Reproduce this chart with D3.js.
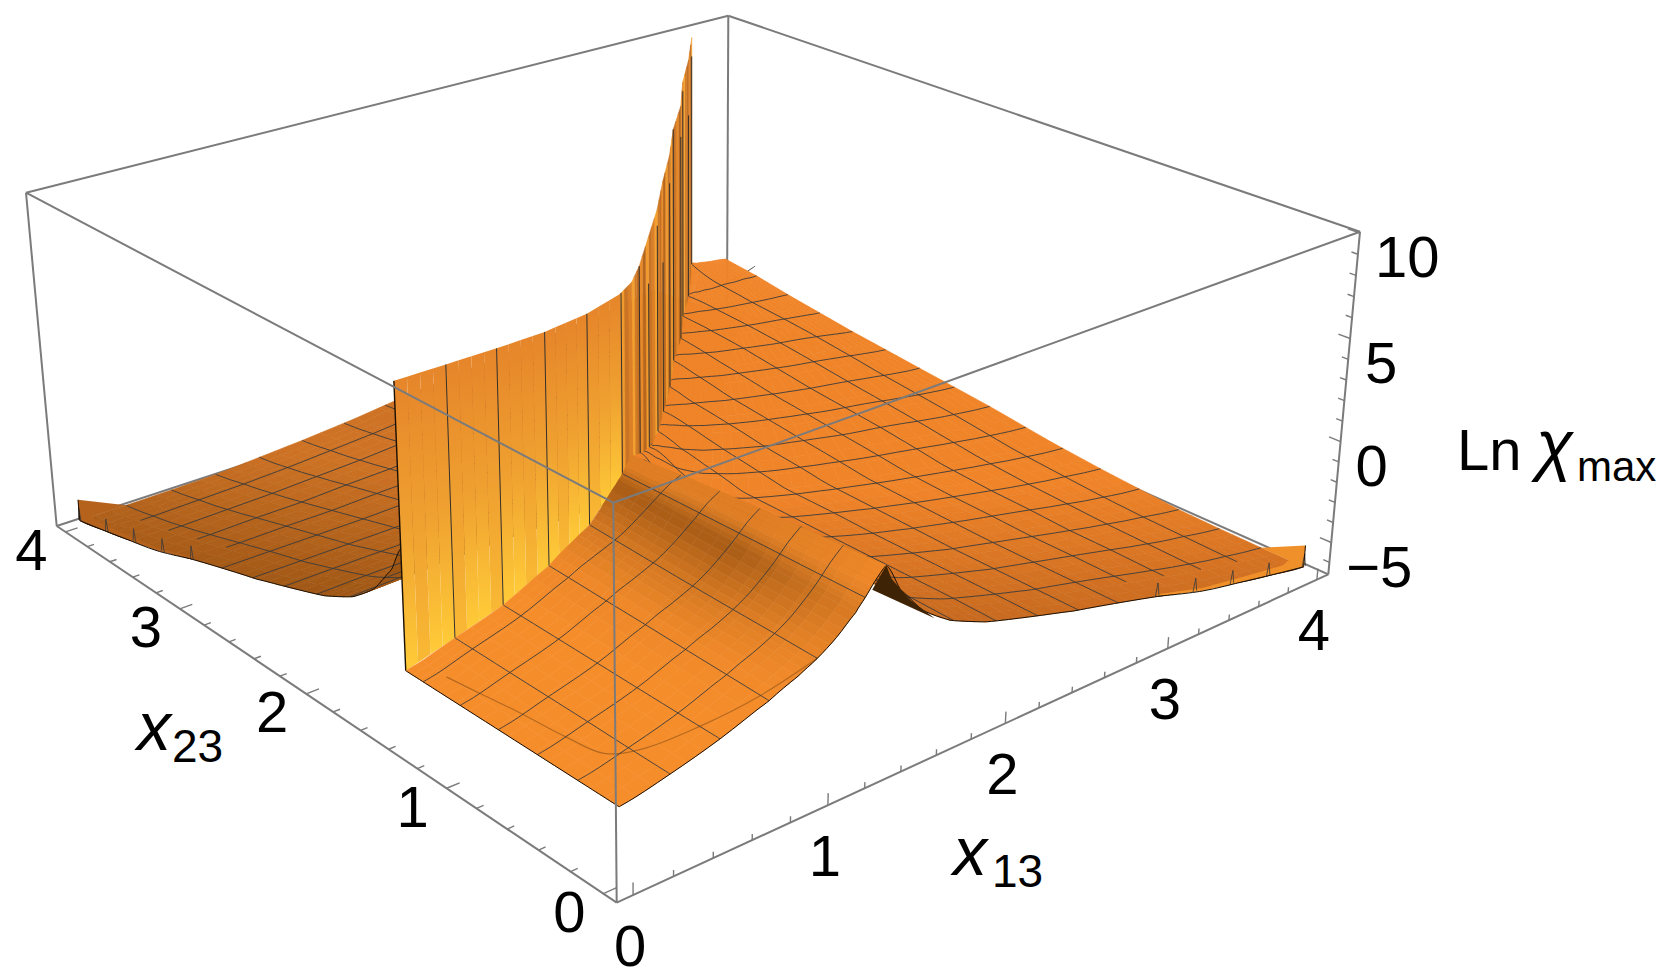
<!DOCTYPE html>
<html>
<head>
<meta charset="utf-8">
<script src="https://cdn.jsdelivr.net/npm/d3@7"></script>
<style>
  body { margin: 0; background: #fff; }
  text { font-family: "Liberation Sans", Arial, sans-serif; fill: #000; }
</style>
</head>
<body>
<div id="grafica"></div>
<script>
// tick labels
var x13Labels = [0, 1, 2, 3, 4];
var x23Labels = [0, 1, 2, 3, 4];
var zLabels = [-5, 0, 5, 10];

// front patch, x13 < ridge : rows x23 (fraction of the wall), columns x13
var frontX13 = [0, .25, .5, .75, .9, 1, 1.1, 1.2, 1.25, 1.3, 1.36];
var frontRows = [0, .19, .38, .56, .75, .9, 1];
var frontZ = [
  [-3.13, -2.68, -2.09, -1.34, -.8, -.37, .2, .95, 1.45, 2.0, 2.5],
  [-3.13, -2.65, -2.05, -1.25, -.72, -.3, .25, .97, 1.43, 1.93, 2.38],
  [-3.13, -2.6, -2.0, -1.17, -.65, -.24, .3, .98, 1.42, 1.87, 2.25],
  [-3.13, -2.57, -1.95, -1.08, -.55, -.17, .36, 1.0, 1.4, 1.8, 2.12],
  [-3.13, -2.54, -1.9, -1.0, -.45, -.08, .42, 1.03, 1.38, 1.72, 1.95],
  [-3.13, -2.51, -1.86, -.93, -.35, 0, .5, 1.07, 1.36, 1.6, 1.75],
  [-3.13, -2.5, -1.84, -.89, -.3, .05, .55, 1.1, 1.35, 1.55, 1.65]
];

// wall between the front patch and the fin, top at the clip level
var wallX13 = [0, .25, .5, .75, 1, 1.24, 1.36, 1.5, 1.75, 2, 2.25, 2.5, 2.75, 3, 3.25, 3.5, 3.76];
var wallX23 = [1.37, 1.37, 1.37, 1.38, 1.42, 1.5, 1.57, 1.69, 1.93, 2.17, 2.43, 2.68, 2.95, 3.19, 3.47, 3.72, 4];
var wallBase = [-3.13, -2.5, -1.84, -.89, .05, 1.3, 1.65, .9, -.4, -1.2, -1.85, -2.15, -2.35, -2.65, -3, -3.35, -3];
var wallTop = 9.7;
var finRidge = 6; // index of the ridge in the wall lists

// lobe right of the ridge (the left lobe is its mirror image)
// rows x23, columns fraction of the way from the fin to x13 = 4
var lobeX23 = [0, .25, .5, .75, 1, 1.25, 1.57, 2, 2.5, 3, 3.5, 3.75, 4];
var lobeFrac = [0, .03, .08, .14, .22, .32, .42, .55, .68, .82, .92, 1];
var lobeZ = [
  [2.5, 1.2, -.2, -1.2, -2, -2.67, -3.3, -4, -4.75, -5.5, -5.95, -6.27],
  [2.4, 1.25, -.15, -1.15, -1.95, -2.65, -3.3, -4, -4.75, -5.5, -5.95, -6.27],
  [2.3, 1.25, -.1, -1.1, -1.95, -2.65, -3.3, -4, -4.7, -5.45, -5.9, -6.25],
  [2.15, 1.2, -.1, -1.1, -1.95, -2.65, -3.3, -4, -4.7, -5.4, -5.85, -6.2],
  [2, 1.15, -.15, -1.1, -1.95, -2.65, -3.25, -3.95, -4.6, -5.3, -5.75, -6.05],
  [1.85, 1.05, -.2, -1.15, -1.95, -2.6, -3.2, -3.9, -4.55, -5.2, -5.6, -5.9],
  [1.65, .9, -.3, -1.2, -1.95, -2.6, -3.15, -3.8, -4.4, -5, -5.4, -5.65],
  [-.8, -1.05, -1.5, -1.95, -2.4, -2.9, -3.3, -3.8, -4.2, -4.7, -5, -5.2],
  [-2, -2.1, -2.3, -2.5, -2.8, -3.1, -3.4, -3.75, -4.05, -4.4, -4.65, -4.8],
  [-2.4, -2.45, -2.6, -2.75, -2.95, -3.15, -3.35, -3.6, -3.8, -4.05, -4.25, -4.4],
  [-3.05, -3.1, -3.15, -3.2, -3.3, -3.4, -3.5, -3.6, -3.7, -3.8, -3.85, -3.9],
  [-3.4, -3.4, -3.4, -3.45, -3.45, -3.5, -3.5, -3.5, -3.55, -3.55, -3.6, -3.6],
  [-3, -3.02, -3.05, -3.1, -3.12, -3.16, -3.2, -3.25, -3.28, -3.32, -3.36, -3.4]
];

// raised band along the far end of the front edge
var bandX13 = [3.0, 3.3, 3.6, 3.85, 4];
var bandLow = [-4.4, -5.15, -5.65, -6.05, -6.27];
var bandHigh = [-4.3, -5.0, -5.4, -5.7, -5.2];
var spikeX13 = [3, 3.25, 3.5, 3.75, 4];
var spikeLow = [-4.4, -5.0, -5.45, -5.9, -6.27];

// dark underside just past the ridge
var underX13 = [1.287, 1.36, 1.39, 1.49, 1.64];
var underZ = [1.66, 2.5, 1.82, .58, -.8];

// faint crease on the front patch
var creaseX13 = [.08, .1, .12, .14, .17, .28, .5, .75, 1];
var creaseX23 = [1.2, .98, .78, .5, .3, .2, .12, .05, 0];

var width = 1672, height = 980;
var meshLines = d3.range(.25, 4, .25);

// box corners on the page, floor then ceiling : going round the unit square
var floorCorners = [[616.7, 902.7], [1328.3, 574.3], [727, 306], [56.7, 526]];
var ceilCorners = [[613.3, 502.7], [1360, 231.7], [728.3, 15.7], [26, 192.7]];
var ceilScale = .95;

var xs = d3.scaleLinear().domain([-.08, 4.08]).range([0, 1]);
var zs = d3.scaleLinear().domain([-6.6, 10.06]).range([0, 1]);

// unit square to four page points
function squareToQuad(q) {
  var dx1 = q[1][0] - q[2][0], dx2 = q[3][0] - q[2][0], sx = q[0][0] - q[1][0] + q[2][0] - q[3][0],
      dy1 = q[1][1] - q[2][1], dy2 = q[3][1] - q[2][1], sy = q[0][1] - q[1][1] + q[2][1] - q[3][1],
      det = dx1 * dy2 - dx2 * dy1,
      g = (sx * dy2 - dx2 * sy) / det, h = (dx1 * sy - sx * dy1) / det;
  return [q[1][0] - q[0][0] + g * q[1][0], q[3][0] - q[0][0] + h * q[3][0], q[0][0],
          q[1][1] - q[0][1] + g * q[1][1], q[3][1] - q[0][1] + h * q[3][1], q[0][1],
          g, h, 1];
}
var camFloor = squareToQuad(floorCorners);
var camCeil = squareToQuad(ceilCorners);

function homog(x, y, z) {
  var X = xs(x), Y = xs(y), Z = zs(z);
  function a(m, i) { return m[i] * X + m[i + 1] * Y + m[i + 2]; }
  return [0, 3, 6].map(function(i) {
    return (1 - Z) * a(camFloor, i) + Z * ceilScale * a(camCeil, i);
  });
}
function depth(x, y, z) { return homog(x, y, z)[2]; }
function project(x, y, z) {
  var h = homog(x, y, z);
  return [h[0] / h[2], h[1] / h[2]];
}

var svg = d3.select("#grafica").append("svg")
  .attr("width", width).attr("height", height);
var defs = svg.append("defs");
var line = d3.line();
var smooth = d3.line().curve(d3.curveCatmullRom.alpha(.5));

function seg(a, b, w) {
  svg.append("path").attr("d", line([project.apply(null, a), project.apply(null, b)]))
    .attr("fill", "none").attr("stroke", "#7b7b7b").attr("stroke-width", w || 2);
}
var x0 = -.08, x1 = 4.08, z0 = -6.6, z1 = 10.06;

// back edges of the box
seg([x0, x1, z0], [x1, x1, z0]);
seg([x1, x1, z0], [x1, x0, z0]);
seg([x1, x1, z0], [x1, x1, z1]);

// lookups
var ridgeX13 = wallX13[finRidge];
var finX13 = d3.scaleLinear()
  .domain([0].concat(wallX23.slice(finRidge))).range([ridgeX13].concat(wallX13.slice(finRidge))).clamp(true);
var finX23 = d3.scaleLinear().domain(wallX13.slice(finRidge)).range(wallX23.slice(finRidge)).clamp(true);
var wallAt = d3.scaleLinear().domain(wallX13).range(wallX23).clamp(true);
var baseAt = d3.scaleLinear().domain(wallX13).range(wallBase).clamp(true);

var rowIdx = d3.scaleLinear().domain(lobeX23).range(d3.range(lobeX23.length)).clamp(true);
var colIdx = d3.scaleLinear().domain(lobeFrac).range(d3.range(lobeFrac.length)).clamp(true);
var fRowIdx = d3.scaleLinear().domain(frontRows).range(d3.range(frontRows.length)).clamp(true);
var fColIdx = d3.scaleLinear().domain(frontX13).range(d3.range(frontX13.length)).clamp(true);

function along(row, c) {
  var j = Math.min(Math.floor(c), row.length - 2), e = c - j,
      p0 = row[Math.max(j - 1, 0)], p1 = row[j], p2 = row[j + 1], p3 = row[Math.min(j + 2, row.length - 1)];
  return p1 + .5 * e * (p2 - p0 + e * (2 * p0 - 5 * p1 + 4 * p2 - p3 + e * (3 * (p1 - p2) + p3 - p0)));
}
function sample(tab, r, c) {
  var i = Math.min(Math.floor(r), tab.length - 2), a = r - i;
  return (1 - a) * along(tab[i], c) + a * along(tab[i + 1], c);
}
function lerpAt(list, t) {
  var i = Math.min(Math.floor(t), list.length - 2);
  return list[i] + (list[i + 1] - list[i]) * (t - i);
}
function lobeAt(x13, x23) {
  var b = finX13(x23);
  return sample(lobeZ, rowIdx(x23), colIdx((x13 - b) / (4 - b)));
}
function frontAt(x13, x23) {
  return sample(frontZ, fRowIdx(x23 / wallAt(x13)), fColIdx(x13));
}

// colours
var rightDark = "#C4681F", rightLight = "#F08429";
var leftDark = "#9C5514", leftLight = "#CE7325";
var patchBase = "#F68D2B", patchDark = "#A85C16";
var ridgeMix = d3.scaleLinear().domain([0, .55, .8, 1, 1.2, 1.29, 1.36]).range([0, 0, .12, .42, 1, .3, .3]).clamp(true);
var ridgeFade = d3.scaleLinear().domain([0, .25, .7, 1.37]).range([.35, .6, 1, 1]).clamp(true);

function rightColor(x13, x23) {
  var t = Math.min(1, x23 * .6 + Math.max(0, x13 - 1.4) * .12);
  return d3.interpolateRgb(rightDark, rightLight)(t);
}
function leftColor(x13, x23) {
  var t = Math.min(1, x13 * .6 + Math.max(0, x23 - 1.4) * .12);
  return d3.interpolateRgb(leftDark, leftLight)(t);
}
function patchColor(x13, x23) {
  return d3.interpolateRgb(patchBase, patchDark)(ridgeMix(x13) * ridgeFade(x23));
}

// split a table's cells finer and paint far to near; ptFn takes row and column positions
function paintPatch(nRows, nCols, sub, ptFn, colorFn) {
  var cells = [];
  for (var r = 0; r < (nRows - 1) * sub; r++) {
    for (var c = 0; c < (nCols - 1) * sub; c++) {
      var pts = [ptFn(r / sub, c / sub), ptFn(r / sub, (c + 1) / sub), ptFn((r + 1) / sub, (c + 1) / sub), ptFn((r + 1) / sub, c / sub)];
      var mx = d3.mean(pts, function(d) { return d[0]; }), my = d3.mean(pts, function(d) { return d[1]; }), mz = d3.mean(pts, function(d) { return d[2]; });
      cells.push({
        pts: pts.map(function(d) { return project(d[0], d[1], d[2]); }),
        w: depth(mx, my, mz), color: colorFn(mx, my)
      });
    }
  }
  cells.sort(function(a, b) { return b.w - a.w; });
  svg.append("g").selectAll("path").data(cells).enter().append("path")
    .attr("d", function(d) { return line(d.pts) + "Z"; })
    .attr("fill", function(d) { return d.color; })
    .attr("stroke", function(d) { return d.color; })
    .attr("stroke-width", .6);
}

function lobePoint(mirror) {
  return function(r, c) {
    var x23 = lerpAt(lobeX23, r), b = finX13(x23), x13 = b + (4 - b) * lerpAt(lobeFrac, c), z = sample(lobeZ, r, c);
    return mirror ? [x23, x13, z] : [x13, x23, z];
  };
}

function meshPath(points, stroke, w) {
  svg.append("path").attr("d", smooth(points))
    .attr("fill", "none").attr("stroke", stroke || "#3a3a3a").attr("stroke-width", w || .9);
}

function lobeMesh(mirror) {
  function P(x13, x23) {
    var z = lobeAt(x13, x23);
    return mirror ? project(x23, x13, z) : project(x13, x23, z);
  }
  meshLines.forEach(function(m) {
    var b = finX13(m);
    if (!mirror || m < 3.4) meshPath(d3.range(0, 1.001, .025).map(function(f) { return P(b + (4 - b) * f * f, m); }));
    if (m > ridgeX13) {
      var top = finX23(m), start = m >= 3 ? .18 : 0;
      meshPath(d3.range(0, 1.001, .025).map(function(f) {
        var y = start + (top - start) * f;
        return P(Math.max(m, finX13(y)), y);
      }));
    }
  });
}

function edge(points, w) {
  svg.append("path").attr("d", smooth(points))
    .attr("fill", "none").attr("stroke", "#1a0f04").attr("stroke-width", w || 1);
}

// band and spikes on a lobe's front edge
function lobeBand(mirror) {
  function P(a, z) { return mirror ? project(0, a, z) : project(a, 0, z); }
  function back(a, y, z) { return mirror ? project(y, a, z) : project(a, y, z); }
  var fill = mirror ? "#B5621C" : "#F0902A";
  var pts = bandX13.map(function(a, i) { return P(a, bandHigh[i]); })
    .concat(bandX13.map(function(a, i) { return P(a, bandLow[i]); }).reverse());
  svg.append("path").attr("d", line(pts) + "Z").attr("fill", fill);
  svg.append("path").attr("d", line([back(4, .25, bandLow[4]), P(4, bandHigh[4]), P(4, bandLow[4])]) + "Z").attr("fill", fill);
  spikeX13.forEach(function(a, i) {
    svg.append("path")
      .attr("d", line([P(a - .012, spikeLow[i]), P(a, spikeLow[i] + .65), P(a + .012, spikeLow[i])]))
      .attr("fill", "none").attr("stroke", "#3a3a3a").attr("stroke-width", .8);
  });
  edge(bandX13.map(function(a, i) { return P(a, bandLow[i]); }));
  edge([P(4, bandLow[4]), P(4, bandHigh[4])]);
}

function lobeEdges(mirror) {
  function P(x13, x23, z) { return mirror ? project(x23, x13, z) : project(x13, x23, z); }
  edge(d3.range(0, lobeFrac.length - .999, .25).map(function(c) {
    return P(ridgeX13 + (4 - ridgeX13) * lerpAt(lobeFrac, c), 0, along(lobeZ[0], c));
  }));
}

// left lobe, the part past the fin stays out
paintPatch(lobeX23.length - 2, lobeFrac.length, 3, lobePoint(true), leftColor);
lobeMesh(true);
lobeEdges(true);
lobeBand(true);

// right lobe
paintPatch(lobeX23.length, lobeFrac.length, 3, lobePoint(false), rightColor);
lobeMesh(false);
lobeEdges(false);
lobeBand(false);

// wall and fin, vertical strips from back to front
var stripeTones = ["#C46F22", "#E68A2A", "#B8671F", "#F09A2E", "#C97424", "#DB8026", "#F4A030", "#CE7A26"];
var dropTones = [0, 1.6, .5, 3, 1, 0, 2.2, .8, 4, 1.4];
var strips = [];
for (var s = 0; s < wallX13.length - 1; s++) {
  var steps = wallX13[s] < 1 ? 4 : 3;
  for (var q = 0; q < steps; q++) {
    var a = wallX13[s] + (wallX13[s + 1] - wallX13[s]) * q / steps;
    var b = wallX13[s] + (wallX13[s + 1] - wallX13[s]) * (q + 1) / steps;
    strips.push({ a: a, b: b, n: strips.length });
  }
}
strips.sort(function(p, q) { return q.a - p.a; });
strips.forEach(function(d) {
  var p1 = project(d.a, wallAt(d.a), wallTop), p2 = project(d.b, wallAt(d.b), wallTop),
      p3 = project(d.b, wallAt(d.b), baseAt(d.b)), p4 = project(d.a, wallAt(d.a), baseAt(d.a));
  var fill, plainWall = d.a < 1.22;
  if (plainWall) {
    var id = "w" + d.n, yellow = d.n % 3 == 1 ? "#F9B934" : "#FFCB38";
    var g = defs.append("linearGradient").attr("id", id).attr("gradientUnits", "userSpaceOnUse")
      .attr("x1", 0).attr("x2", 0).attr("y1", Math.min(p1[1], p2[1])).attr("y2", Math.max(p3[1], p4[1]));
    g.append("stop").attr("offset", 0).attr("stop-color", "#E6852A");
    g.append("stop").attr("offset", .5).attr("stop-color", "#EFA030");
    g.append("stop").attr("offset", 1).attr("stop-color", yellow);
    fill = "url(#" + id + ")";
  } else {
    fill = stripeTones[d.n % stripeTones.length];
  }
  svg.append("path").attr("d", line([p1, p2, p3, p4]) + "Z")
    .attr("fill", fill).attr("stroke", plainWall ? "none" : fill).attr("stroke-width", .5);
});

// mesh lines carried up the wall and the fin
meshLines.filter(function(m) { return m < 3.76; }).forEach(function(a, i) {
  svg.append("path")
    .attr("d", line([project(a, wallAt(a), baseAt(a)), project(a, wallAt(a), wallTop - (a > 1.3 ? dropTones[i % 10] : 0))]))
    .attr("fill", "none").attr("stroke", "#33302c").attr("stroke-width", 1);
});
edge([project(0, wallAt(0), baseAt(0)), project(0, wallAt(0), wallTop)], 1.4);

// dark underside past the ridge
svg.append("path")
  .attr("d", line(underX13.map(function(a, i) { return project(a, 0, underZ[i]); })) + "Z")
  .attr("fill", "#3E2404");

// front patch
paintPatch(frontRows.length, frontX13.length, 3, function(r, c) {
  var a = lerpAt(frontX13, c);
  return [a, lerpAt(frontRows, r) * wallAt(a), sample(frontZ, r, c)];
}, patchColor);

meshPath(creaseX13.map(function(a, i) { return project(a, creaseX23[i], frontAt(a, creaseX23[i])); }), "#B5691F", 1.2);

// mesh on the front patch
meshLines.filter(function(m) { return m < ridgeX13; }).forEach(function(m) {
  meshPath(d3.range(0, 1.001, .05).map(function(f) {
    var y = wallAt(m) * f; return project(m, y, frontAt(m, y));
  }));
  meshPath(d3.range(0, 1.001, .05).map(function(f) {
    var a = ridgeX13 * f; return project(a, Math.min(m, wallAt(a)), frontAt(a, Math.min(m, wallAt(a))));
  }));
});
edge(d3.range(0, frontX13.length - .999, .25).map(function(c) { return project(lerpAt(frontX13, c), 0, along(frontZ[0], c)); }));
edge(frontRows.map(function(f, i) { return project(0, f * wallAt(0), frontZ[i][0]); }));

// front edges of the box and the axes
seg([x0, x0, z1], [x1, x0, z1]);
seg([x0, x0, z1], [x0, x1, z1]);
seg([x0, x1, z1], [x1, x1, z1]);
seg([x1, x0, z1], [x1, x1, z1]);
seg([x0, x0, z0], [x0, x0, z1]);
seg([x0, x1, z0], [x0, x1, z1]);
seg([x1, x0, z0], [x1, x0, z1]);
seg([x0, x0, z0], [x1, x0, z0]);
seg([x0, x0, z0], [x0, x1, z0]);

var minorX = d3.range(0, 4.01, .2);
var minorZ = d3.range(-6, 10.01, 1);
function isMajor(v) { return Math.abs(v - Math.round(v)) < 1e-6; }
minorX.forEach(function(v) {
  // x13 ticks stand up, x23 ticks lie on the floor
  seg([v, x0, z0], [v, x0, z0 + (isMajor(v) ? .55 : .28)], 1.4);
  seg([x0, v, z0], [x0 + (isMajor(v) ? .065 : .035), v, z0], 1.4);
});
minorZ.forEach(function(v) {
  var major = v % 5 == 0;
  seg([x1, x0, v], [x1, x0 + (major ? .065 : .035), v], 1.4);
});

function label(p, dx, dy, t, anchor) {
  svg.append("text").attr("x", p[0] + dx).attr("y", p[1] + dy)
    .attr("text-anchor", anchor || "middle").attr("dominant-baseline", "central")
    .style("font-size", "58px").text(t);
}
x13Labels.forEach(function(v) { label(project(v, x0, z0), -3, 50, v); });
x23Labels.forEach(function(v) { label(project(x0, v, z0), -34, 18, v); });
zLabels.forEach(function(v) {
  label(project(x1, x0, v), 15, 24, String(v).replace("-", "\u2212"), "start");
});

function plain(x, y, t, size, italic) {
  svg.append("text").attr("x", x).attr("y", y)
    .style("font-size", size + "px").style("font-style", italic ? "italic" : "normal").text(t);
}
plain(137, 750, "x", 68, true);
plain(172, 762, "23", 46);
plain(953, 875, "x", 68, true);
plain(992, 887, "13", 46);
plain(1457, 470, "Ln", 58);
plain(1536, 468, "\u03C7", 68, true);
plain(1577, 481, "max", 42);
</script>
</body>
</html>
